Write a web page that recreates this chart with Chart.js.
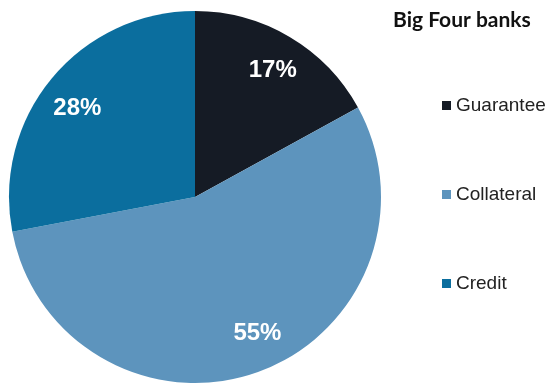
<!DOCTYPE html>
<html>
<head>
<meta charset="utf-8">
<script src="https://cdn.jsdelivr.net/npm/chart.js@4.4.1/dist/chart.umd.min.js"></script>
<style>
  html, body { margin: 0; padding: 0; background: #ffffff; }
  #wrap { width: 550px; height: 384px; position: relative; }
</style>
</head>
<body>
<div id="wrap"><canvas id="pie"></canvas></div>
<script>
// shares of the big four banks, by type
const categories = ["Guarantee", "Collateral", "Credit"];
const shares = [17, 55, 28];
const sliceColors = ["#151b25", "#5d94bd", "#0b6e9e"];
const chartTitle = "Big Four banks";

// white percentage labels inside each slice
const sliceLabels = {
    id: "sliceLabels",
    afterDatasetsDraw(chart) {
        const ctx = chart.ctx;
        const meta = chart.getDatasetMeta(0);
        // small hand nudges so the labels sit like the original layout
        const nudge = [[2, 1], [12, -4], [-3, 6]];
        ctx.save();
        ctx.fillStyle = "#ffffff";
        ctx.font = "bold 24px 'Liberation Sans', Arial, sans-serif";
        ctx.textAlign = "center";
        ctx.textBaseline = "middle";
        meta.data.forEach((arc, i) => {
            const p = arc.getProps(["x", "y", "startAngle", "endAngle", "outerRadius"], true);
            const mid = (p.startAngle + p.endAngle) / 2;
            const r = p.outerRadius * 0.8;
            ctx.fillText(shares[i] + "%",
                p.x + Math.cos(mid) * r + nudge[i][0],
                p.y + Math.sin(mid) * r + nudge[i][1]);
        });
        ctx.restore();
    }
};

// title and legend column on the right
const sideLegend = {
    id: "sideLegend",
    afterDraw(chart) {
        const ctx = chart.ctx;
        ctx.save();
        ctx.fillStyle = "#111111";
        ctx.font = "bold 21px Lato, 'Open Sans', sans-serif";
        ctx.textAlign = "left";
        ctx.textBaseline = "alphabetic";
        ctx.fillText(chartTitle, 393, 27);

        ctx.font = "19px 'Liberation Sans', Arial, sans-serif";
        ctx.textBaseline = "middle";
        categories.forEach((name, i) => {
            const y = 105 + i * 89;
            ctx.fillStyle = sliceColors[i];
            ctx.fillRect(442, y - 4, 9, 9);
            ctx.fillStyle = "#222222";
            ctx.fillText(name, 456, y + 1);
        });
        ctx.restore();
    }
};

new Chart(document.getElementById("pie"), {
    type: "pie",
    data: {
        labels: categories,
        datasets: [{
            data: shares,
            backgroundColor: sliceColors,
            borderWidth: 0
        }]
    },
    options: {
        responsive: true,
        maintainAspectRatio: false,
        animation: false,
        layout: { padding: { left: 9, right: 169, top: 11, bottom: 1 } },
        plugins: {
            legend: { display: false },
            tooltip: { enabled: false }
        }
    },
    plugins: [sliceLabels, sideLegend]
});
</script>
</body>
</html>
